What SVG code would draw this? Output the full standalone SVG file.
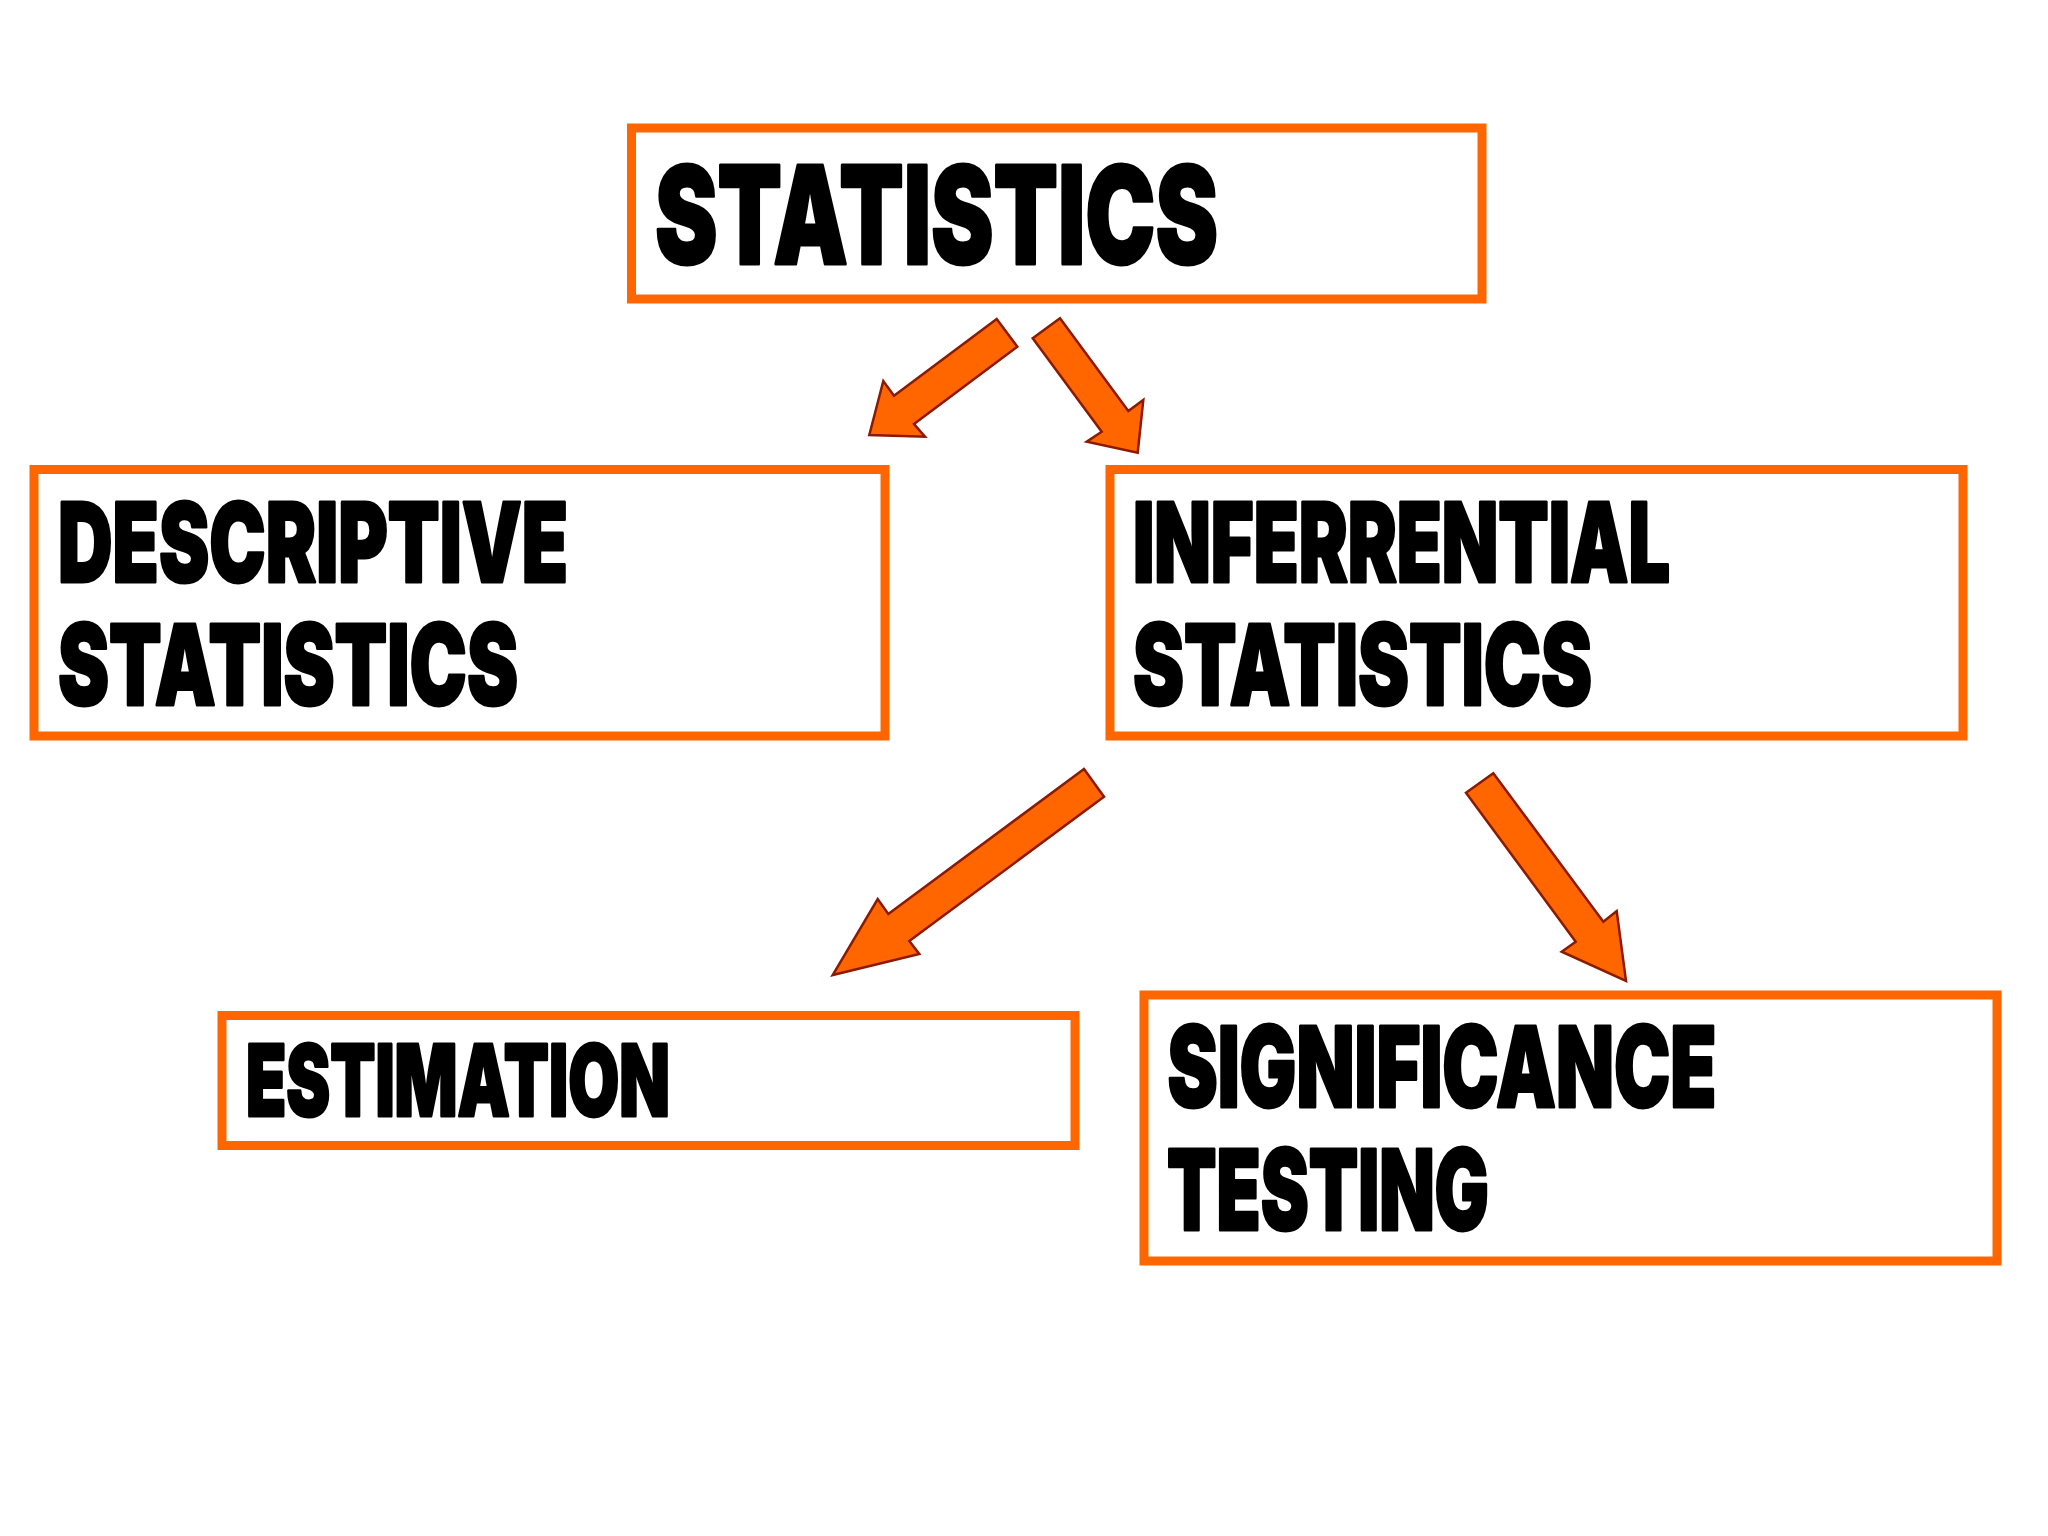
<svg xmlns="http://www.w3.org/2000/svg" width="2048" height="1536" viewBox="0 0 2048 1536">
<style>
.box{fill:#ffffff;stroke:#ff6600;stroke-width:9}
.lbl{font-family:Inter,"Liberation Sans","DejaVu Sans",sans-serif;font-weight:900;fill:#000;stroke:#000;stroke-width:3;stroke-linejoin:round}
.arr{fill:#ff6600;stroke:#8b1a00;stroke-width:2.5;stroke-linejoin:miter}
</style>
<rect width="2048" height="1536" fill="#ffffff"/>
<g id="node-statistics">
<rect class="box" x="631.5" y="128" width="850.5" height="171"/>
<text class="lbl" x="655" y="264" font-size="136" textLength="563" lengthAdjust="spacingAndGlyphs">STATISTICS</text>
</g>
<g id="node-descriptive">
<rect class="box" x="34" y="469.5" width="851" height="266.5"/>
<text class="lbl" x="58" y="581.5" font-size="110" textLength="510" lengthAdjust="spacingAndGlyphs">DESCRIPTIVE</text>
<text class="lbl" x="58" y="704.5" font-size="112" textLength="460" lengthAdjust="spacingAndGlyphs">STATISTICS</text>
</g>
<g id="node-inferential">
<rect class="box" x="1110" y="469.5" width="853" height="266.5"/>
<text class="lbl" x="1133" y="581.5" font-size="110" textLength="537" lengthAdjust="spacingAndGlyphs">INFERRENTIAL</text>
<text class="lbl" x="1133" y="704.5" font-size="112" textLength="459" lengthAdjust="spacingAndGlyphs">STATISTICS</text>
</g>
<g id="node-estimation">
<rect class="box" x="222" y="1015.5" width="853" height="130"/>
<text class="lbl" x="246" y="1116" font-size="99" textLength="424" lengthAdjust="spacingAndGlyphs">ESTIMATION</text>
</g>
<g id="node-significance">
<rect class="box" x="1144" y="995" width="853" height="266"/>
<text class="lbl" x="1167.5" y="1107" font-size="112" textLength="549" lengthAdjust="spacingAndGlyphs">SIGNIFICANCE</text>
<text class="lbl" x="1167" y="1229.5" font-size="112" textLength="322" lengthAdjust="spacingAndGlyphs">TESTING</text>
</g>
<g id="connectors">
<polygon class="arr" points="996.7,319 1017.3,346.7 914,424 925,436.7 869.3,435 883.3,381 894,395.7"/>
<polygon class="arr" points="1060,318.3 1128.3,411 1143.3,400 1137.7,452.7 1086.7,441.7 1101.7,431.7 1032.7,338.3"/>
<polygon class="arr" points="1084,769 1104,796.7 909.3,941 919.3,954 832.7,975 877.7,899 888.3,914"/>
<polygon class="arr" points="1493.3,773.3 1603.3,921.7 1616.7,911 1626,981 1561.7,951.7 1575.7,941.7 1466,792.7"/>
</g>
</svg>
